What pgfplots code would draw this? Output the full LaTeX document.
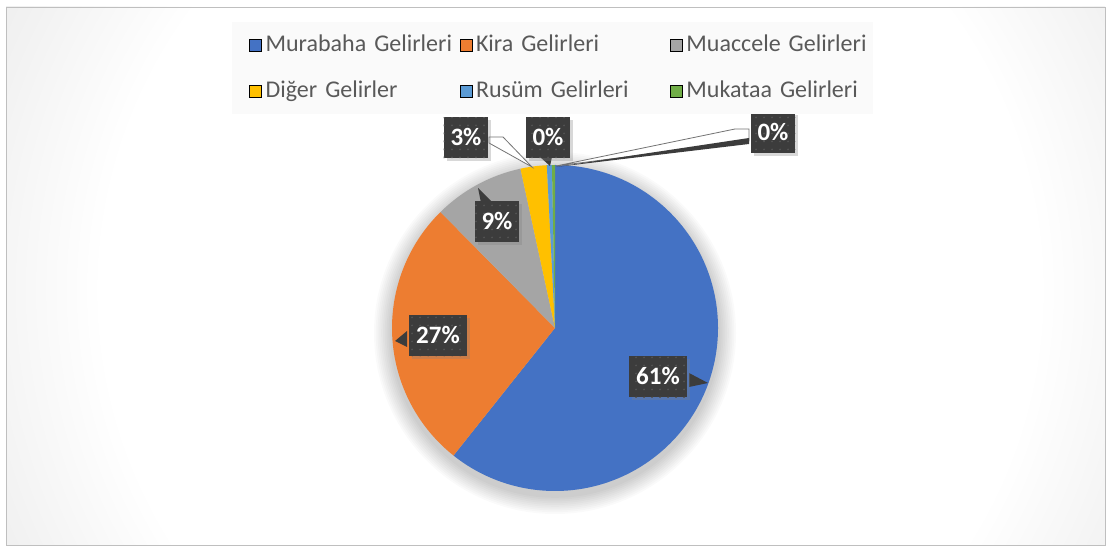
\documentclass[border=0pt]{standalone}
\usepackage{pgfplots}
\pgfplotsset{compat=1.18}
\usepackage{pgfplotstable}
\usetikzlibrary{shadows,patterns.meta}
\usepackage{fontspec}
\setmainfont{Carlito}

\definecolor{cMur}{HTML}{4472C4}
\definecolor{cKir}{HTML}{ED7D31}
\definecolor{cMua}{HTML}{A5A5A5}
\definecolor{cDig}{HTML}{FFC000}
\definecolor{cRus}{HTML}{5B9BD5}
\definecolor{cMuk}{HTML}{70AD47}
\definecolor{lblbg}{HTML}{3C3C3C}
\definecolor{lbldot}{HTML}{555555}
\definecolor{legtext}{HTML}{595959}
\definecolor{legbg}{HTML}{FAFAFA}

\pgfplotstableread{
name value
Murabaha 60.7
Kira 26.9
Muaccele 9.0
Diger 2.6
Rusum 0.5
Mukataa 0.3
}\piedata

\def\cum{0}
\foreach \i in {0,...,5}{%
  \pgfplotstablegetelem{\i}{value}\of\piedata
  \pgfmathsetmacro\sa{90-3.6*\cum}%
  \pgfmathsetmacro\newcum{\cum+\pgfplotsretval}%
  \pgfmathsetmacro\ea{90-3.6*\newcum}%
  \expandafter\xdef\csname sA\i\endcsname{\sa}%
  \expandafter\xdef\csname eA\i\endcsname{\ea}%
  \xdef\cum{\newcum}%
}

\newcommand\slice[2]{\fill[#2] (axis cs:555,217) -- ++(\csname sA#1\endcsname:163pt) arc[start angle=\csname sA#1\endcsname, end angle=\csname eA#1\endcsname, radius=163pt] -- cycle;}

\tikzdeclarepattern{name=lbldots, type=uncolored, bottom left={(-.5pt,-.5pt)}, top right={(8.5pt,8.5pt)}, tile size={(8pt,8pt)}, code={\fill (4pt,4pt) circle (0.9pt);}}

\pgfdeclareradialshading{bgshade}{\pgfpoint{0bp}{0bp}}{color(0bp)=(white); color(18bp)=(white); color(23bp)=(black!5); color(35bp)=(black!15); color(48bp)=(black!27); color(50bp)=(black!29)}

\tikzset{
  lbl/.style={fill=lblbg, text=white, font=\fontsize{25}{30}\selectfont\bfseries, inner xsep=7pt, inner ysep=0pt, minimum height=41pt, text height=17pt, text depth=1pt,
    drop shadow={shadow xshift=3pt, shadow yshift=-3pt, opacity=0.3},
    postaction={pattern=lbldots, pattern color=lbldot}},
  tail/.style={fill=lblbg}
}

\pgfplotsset{sq legend/.style={legend image code/.code={\fill[##1] (0pt,-6pt) rectangle (12pt,6pt);}}}

\begin{document}
\begin{tikzpicture}
\fill[white] (0,0) rectangle (1113pt,545pt);
\begin{scope}
\clip (6pt,0pt) rectangle (1105pt,538pt);
\shade[shading=bgshade] (570pt,255pt) circle (650pt);
\end{scope}
\draw[black!25, line width=0.8pt] (6pt,0pt) rectangle (1105pt,538pt);
% soft shadow under the pie
\foreach \k in {1,...,10}{\fill[black, opacity=0.02] (555pt,212pt) circle ({163pt+\k*1.8pt});}
\begin{axis}[
  x=1pt, y=1pt, xmin=0, xmax=1113, ymin=0, ymax=545,
  hide axis, clip=false,
  legend columns=3,
  legend cell align=left,
  legend style={at={(0.20845,0.9596)}, anchor=north west, fill=legbg, draw=none,
    inner xsep=17pt, inner ysep=0pt,
    font=\fontsize{24}{29}\selectfont, text=legtext,
    /tikz/every odd column/.style={column sep=4pt},
    /tikz/every even column/.style={column sep=24pt},
    nodes={inner xsep=0pt, inner ysep=0pt, text width=170pt, align=left, minimum height=46pt, text height=17pt, text depth=5pt, anchor=west}},
]
\addlegendimage{sq legend, fill=cMur}\addlegendentry{\mbox{Murabaha Gelirleri}}
\addlegendimage{sq legend, fill=cKir}\addlegendentry{\mbox{Kira Gelirleri}}
\addlegendimage{sq legend, fill=cMua}\addlegendentry{\mbox{Muaccele Gelirleri}}
\addlegendimage{sq legend, fill=cDig}\addlegendentry{\mbox{Diğer Gelirler}}
\addlegendimage{sq legend, fill=cRus}\addlegendentry{\mbox{Rusüm Gelirleri}}
\addlegendimage{sq legend, fill=cMuk}\addlegendentry{\mbox{Mukataa Gelirleri}}

\slice{0}{cMur}
\slice{1}{cKir}
\slice{2}{cMua}
\slice{3}{cDig}
\slice{4}{cRus}
\slice{5}{cMuk}

% tails / leaders
\fill[tail] (axis cs:689,172) -- (axis cs:708,162) -- (axis cs:689,158) -- cycle;
\fill[tail] (axis cs:407,214) -- (axis cs:395,204) -- (axis cs:407,198) -- cycle;
\fill[tail] (axis cs:481,342) -- (axis cs:478,357) -- (axis cs:493,342) -- cycle;
\fill[tail] (axis cs:540,388) -- (axis cs:550,379) -- (axis cs:552,388) -- cycle;
\filldraw[fill=white, draw=black!55, line width=0.8pt] (axis cs:489,408) -- (axis cs:503,408) -- (axis cs:532,378) -- (axis cs:489,402) -- cycle;
\filldraw[fill=white, draw=black!55, line width=0.8pt] (axis cs:749,416) -- (axis cs:735,416) -- (axis cs:556,379) -- (axis cs:749,404) -- cycle;
\fill[tail] (axis cs:749,407) -- (axis cs:556,378) -- (axis cs:749,401) -- cycle;

\node[lbl] at (axis cs:658,168) {61\%};
\node[lbl] at (axis cs:438,209) {27\%};
\node[lbl] at (axis cs:497,323) {9\%};
\node[lbl] at (axis cs:466,407) {3\%};
\node[lbl] at (axis cs:548,407) {0\%};
\node[lbl] at (axis cs:773,412) {0\%};
\end{axis}
\end{tikzpicture}
\end{document}
